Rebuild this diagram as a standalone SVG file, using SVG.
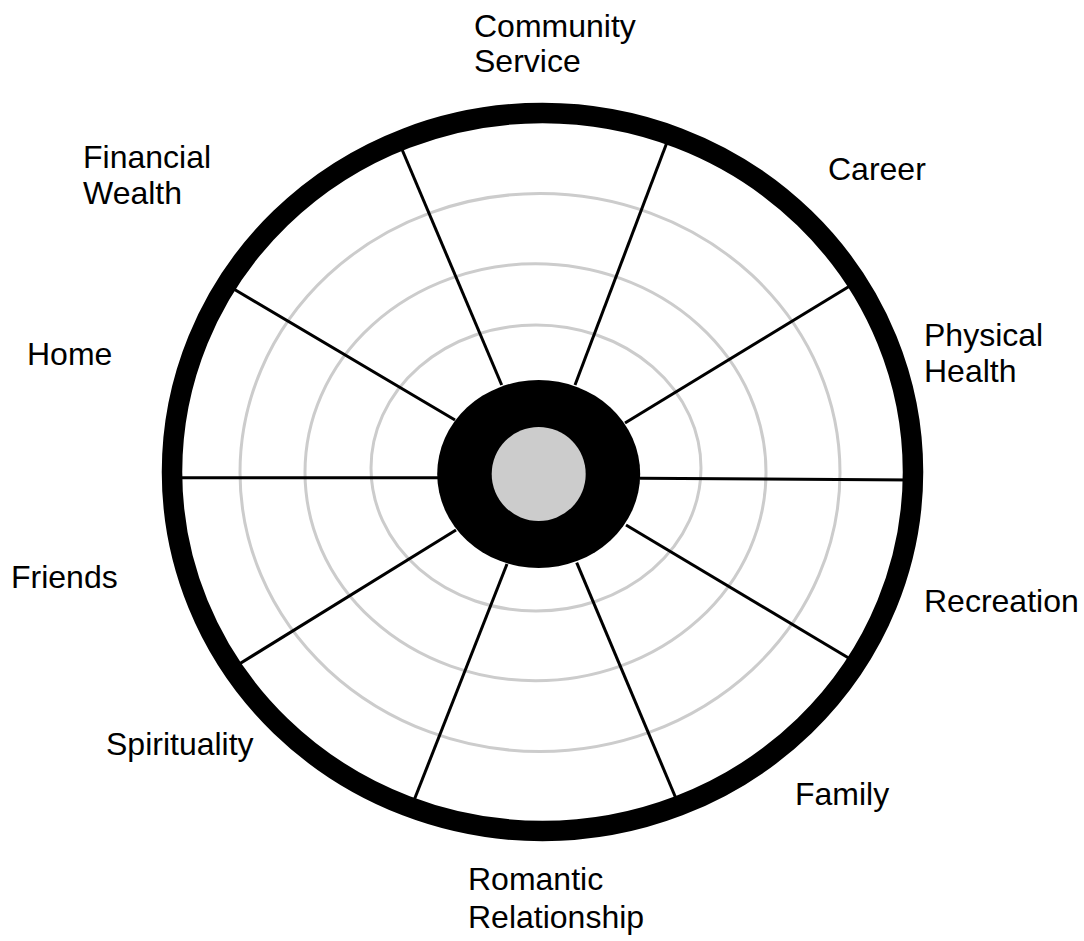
<svg xmlns="http://www.w3.org/2000/svg" width="1084" height="941" viewBox="0 0 1084 941">
<style>
.lbl{font-family:"Liberation Sans",Arial,sans-serif;font-size:32px;fill:#000}
.ring{fill:none;stroke:#cccccc;stroke-width:3}
.spoke{stroke:#000;stroke-width:3;fill:none}
</style>
<rect width="1084" height="941" fill="#fff"/>
<g id="rings">
<ellipse class="ring" cx="536" cy="468" rx="165" ry="143"/>
<ellipse class="ring" cx="535.5" cy="472.3" rx="230.5" ry="208.5"/>
<ellipse class="ring" cx="540" cy="472.5" rx="300" ry="279"/>
</g>
<g id="connectors">
<line class="spoke" x1="398" y1="140" x2="501.7" y2="385"/>
<line class="spoke" x1="669" y1="137" x2="575" y2="385"/>
<line class="spoke" x1="858" y1="281" x2="625" y2="423"/>
<line class="spoke" x1="913" y1="480" x2="640" y2="478.3"/>
<line class="spoke" x1="862" y1="666" x2="626" y2="525"/>
<line class="spoke" x1="680" y1="808" x2="576.7" y2="562.7"/>
<line class="spoke" x1="411" y1="808" x2="507" y2="564"/>
<line class="spoke" x1="236" y1="666" x2="456" y2="530"/>
<line class="spoke" x1="172" y1="477.7" x2="438" y2="477.7"/>
<line class="spoke" x1="222" y1="282" x2="455" y2="420"/>
</g>
<g id="outer">
<ellipse cx="542.5" cy="472" rx="370.5" ry="359" fill="none" stroke="#000" stroke-width="20.5"/>
</g>
<g id="hub">
<ellipse cx="538.7" cy="474" rx="101.5" ry="94" fill="#000"/>
<circle cx="538.7" cy="474" r="47" fill="#cccccc"/>
</g>
<g id="label-community"><text class="lbl" x="474" y="37">Community</text><text class="lbl" x="474" y="72">Service</text></g>
<g id="label-financial"><text class="lbl" x="83" y="168">Financial</text><text class="lbl" x="83" y="204">Wealth</text></g>
<g id="label-career"><text class="lbl" x="828" y="180">Career</text></g>
<g id="label-home"><text class="lbl" x="27" y="365">Home</text></g>
<g id="label-physical"><text class="lbl" x="924" y="346">Physical</text><text class="lbl" x="924" y="382">Health</text></g>
<g id="label-friends"><text class="lbl" x="11" y="588">Friends</text></g>
<g id="label-recreation"><text class="lbl" x="924" y="612">Recreation</text></g>
<g id="label-spirituality"><text class="lbl" x="106" y="755">Spirituality</text></g>
<g id="label-family"><text class="lbl" x="795" y="805">Family</text></g>
<g id="label-romantic"><text class="lbl" x="468" y="890">Romantic</text><text class="lbl" x="468" y="928">Relationship</text></g>
</svg>
